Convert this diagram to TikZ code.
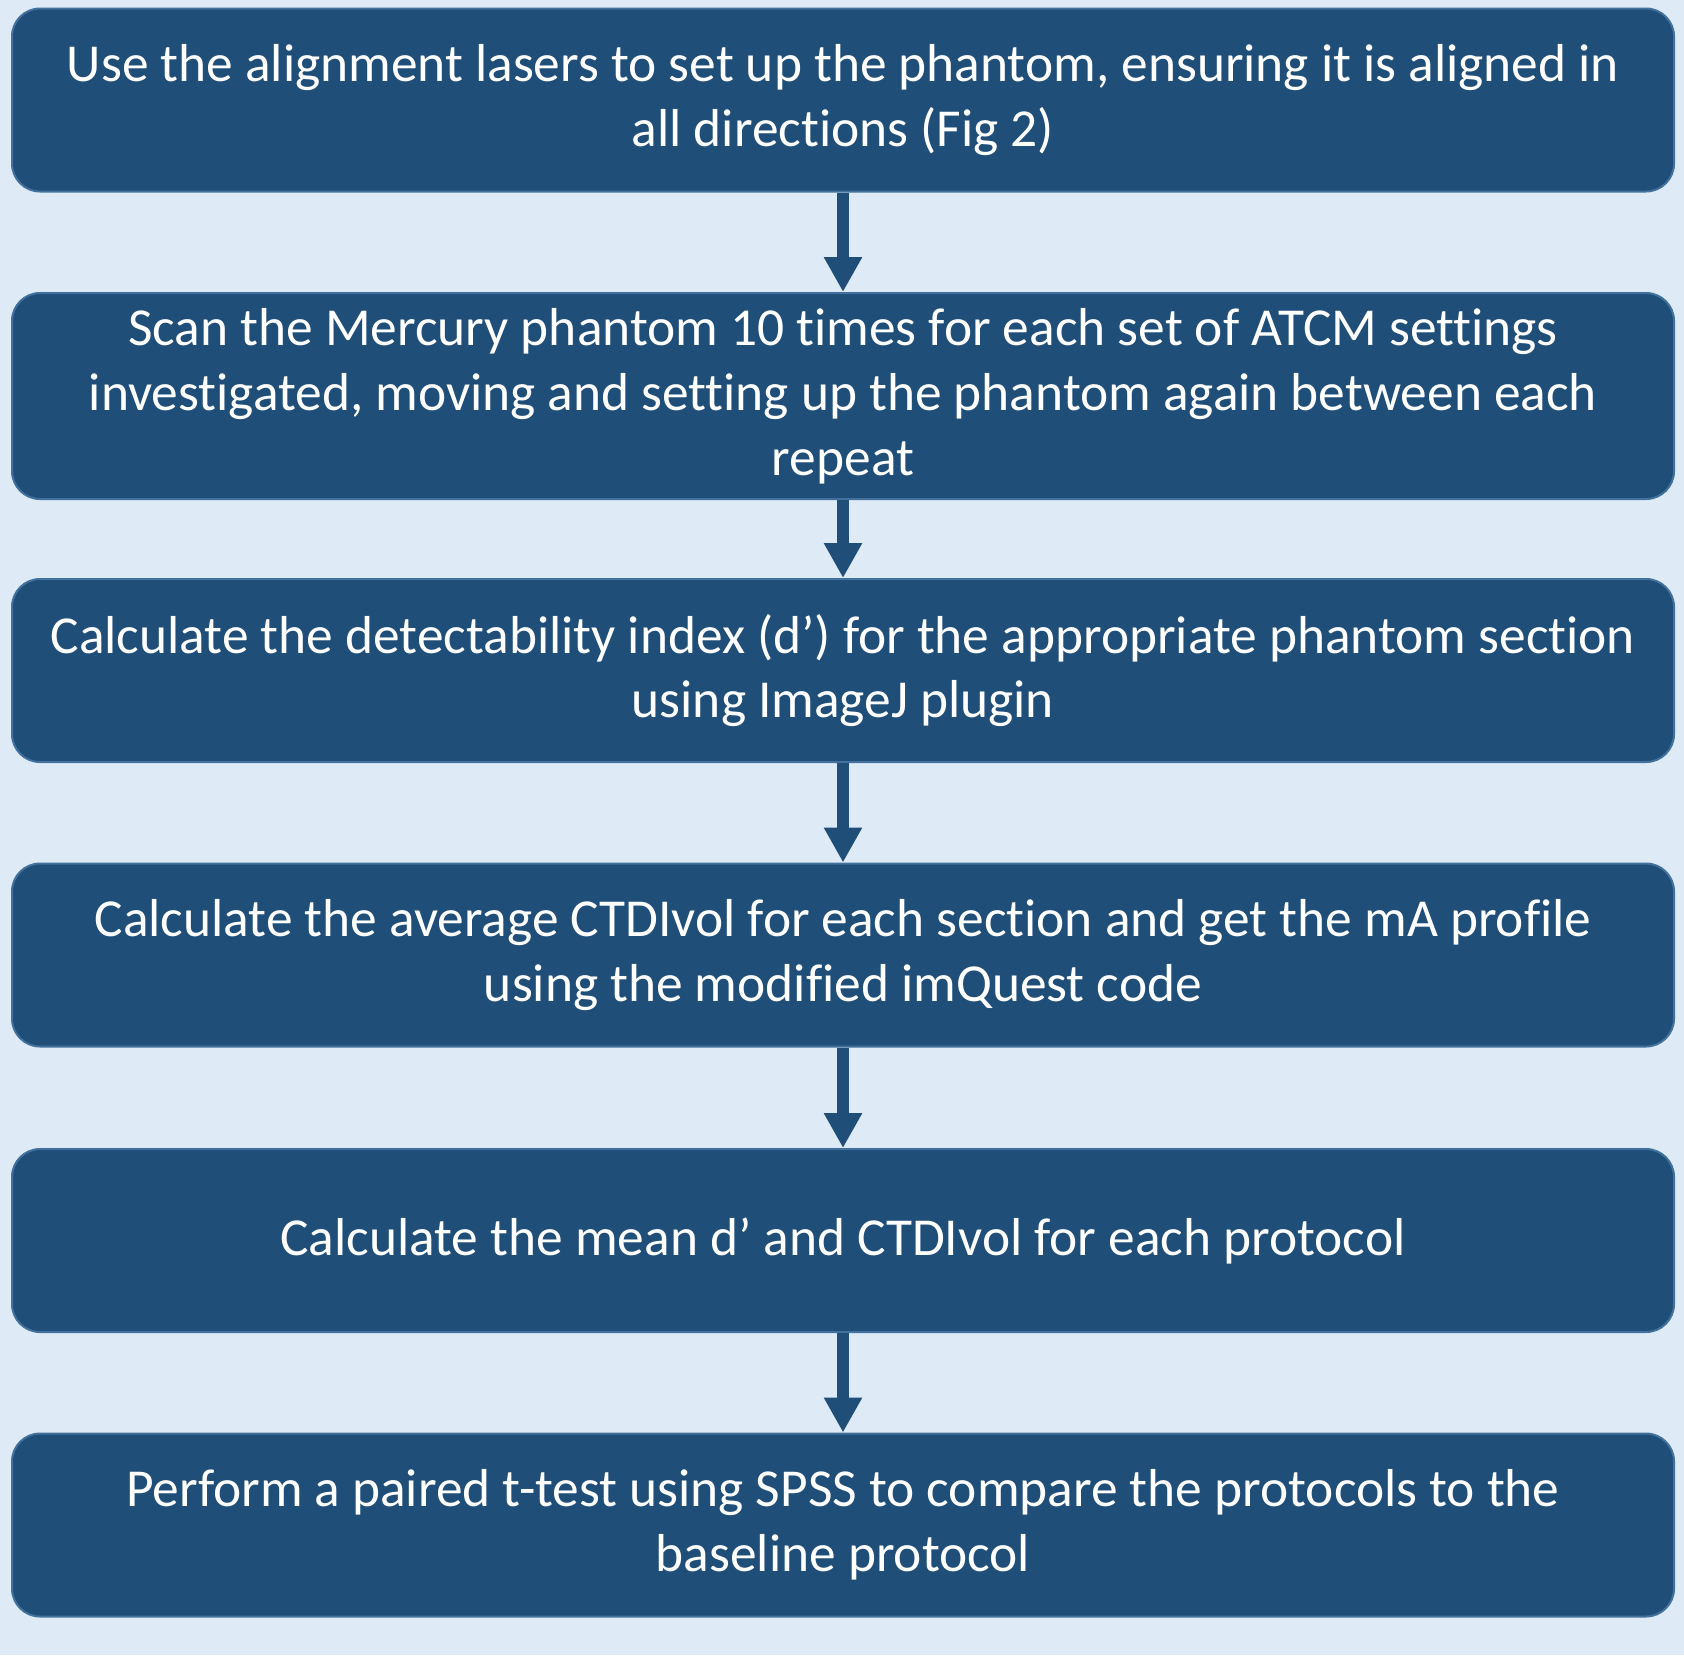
\documentclass[tikz,border=0pt]{standalone}
\usepackage{fontspec}
\setmainfont[Ligatures={NoCommon}]{Carlito}
\usepackage{tikz}
\usetikzlibrary{arrows.meta, positioning, calc}

\definecolor{boxblue}{HTML}{1F4E79}
\definecolor{edgeblue}{HTML}{41719C}
\definecolor{paleblue}{HTML}{DEEAF6}

\begin{document}
\begin{tikzpicture}[
        stepbox/.style={
            rectangle,
            rounded corners=14pt,
            draw=edgeblue,
            fill=boxblue,
            line width=1pt,
            text=white,
            minimum width=831pt,
            minimum height=91.5pt,
            align=center,
            font=\fontsize{26.7pt}{32.4pt}\selectfont
        },
        flow/.style={
            -{Triangle[width=18pt, length=17.5pt]},
            draw=boxblue,
            fill=boxblue,
            line width=6pt
        }
    ]

    \fill[paleblue] (0pt,0pt) rectangle (842pt,-827.5pt);
    \useasboundingbox (0pt,0pt) rectangle (842pt,-827.5pt);

    \coordinate (C) at (421.5pt, 0pt);

    \node[stepbox] (n1) at ($(C) + (0,-50pt)$)
        {Use the alignment lasers to set up the phantom, ensuring it is aligned in\\all directions (Fig 2)};
    \node[stepbox, minimum height=103pt] (n2) at ($(C) + (0,-198pt)$)
        {Scan the Mercury phantom 10 times for each set of ATCM settings\\investigated, moving and setting up the phantom again between each\\repeat};
    \node[stepbox] (n3) at ($(C) + (0,-335.25pt)$)
        {Calculate the detectability index (d’) for the appropriate phantom section\\using ImageJ plugin};
    \node[stepbox] (n4) at ($(C) + (0,-477.5pt)$)
        {Calculate the average CTDIvol for each section and get the mA profile\\using the modified imQuest code};
    \node[stepbox] (n5) at ($(C) + (0,-620.25pt)$)
        {Calculate the mean d’ and CTDIvol for each protocol};
    \node[stepbox] (n6) at ($(C) + (0,-762.5pt)$)
        {Perform a paired t-test using SPSS to compare the protocols to the\\baseline protocol};

    \draw[flow] (n1) -- (n2);
    \draw[flow] (n2) -- (n3);
    \draw[flow] (n3) -- (n4);
    \draw[flow] (n4) -- (n5);
    \draw[flow] (n5) -- (n6);

\end{tikzpicture}
\end{document}
